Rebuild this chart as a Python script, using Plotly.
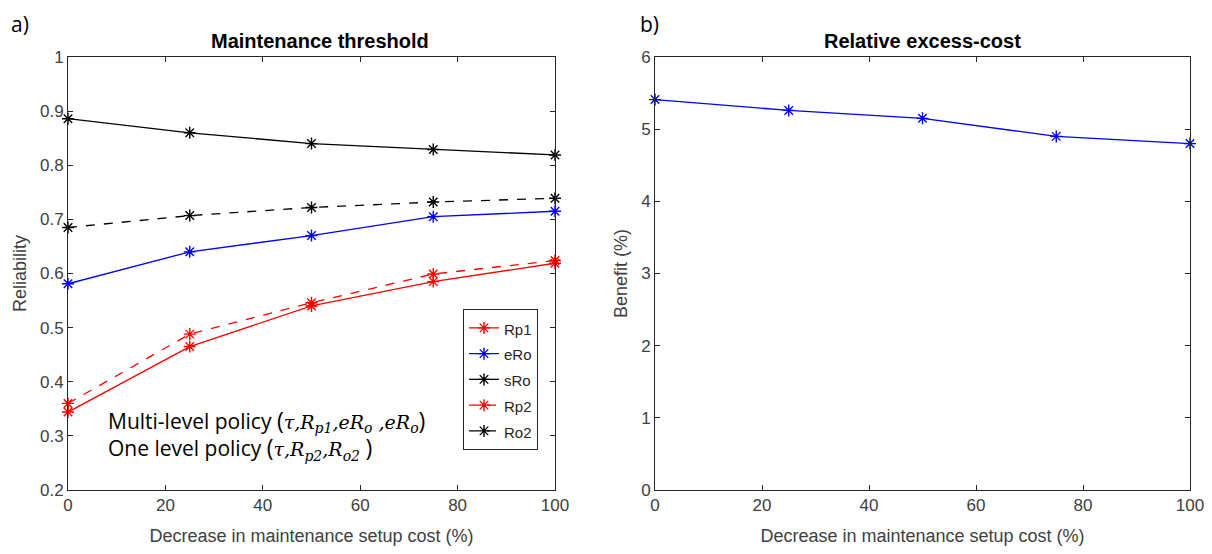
import plotly.graph_objects as go

x_cost = [0, 25, 50, 75, 100]
rp1 = [0.344, 0.465, 0.540, 0.585, 0.619]
ero = [0.581, 0.640, 0.670, 0.705, 0.715]
sro = [0.886, 0.860, 0.840, 0.829, 0.819]
rp2 = [0.360, 0.488, 0.546, 0.599, 0.624]
ro2 = [0.685, 0.707, 0.722, 0.732, 0.739]
benefit = [5.41, 5.26, 5.15, 4.90, 4.80]

# page has an 8px body margin; size figure to fill the window exactly
OFF = 8
W, H = 1212 - 2 * OFF, 554 - 2 * OFF
def fx(p): return (p - OFF) / W
def fy(p): return 1 - (p - OFF) / H

FONT = "Liberation Sans, Arial, sans-serif"
GRAY = "#404040"

fig = go.Figure()

def add(y, name, color, dash, xa="x", ya="y", show=True):
    fig.add_trace(go.Scatter(
        x=x_cost, y=y, name="<span style='font-size:15px'>" + name + "</span>",
        mode="lines+markers",
        line=dict(color=color, width=1.3, dash=dash),
        marker=dict(symbol="asterisk-open", size=10, color=color,
                    line=dict(color=color, width=1.4)),
        xaxis=xa, yaxis=ya, showlegend=show, cliponaxis=False))

add(rp1, "Rp1", "#ff0000", "solid")
add(ero, "eRo", "#0000ff", "solid")
add(sro, "sRo", "#000000", "solid")
add(rp2, "Rp2", "#ff0000", "dash")
add(ro2, "Ro2", "#000000", "dash")
add(benefit, "Benefit", "#0000ff", "solid", "x2", "y2", False)

axis_common = dict(showline=True, linecolor="#262626", linewidth=1, mirror="ticks",
                   ticks="inside", ticklen=5, tickcolor="#262626", showgrid=False,
                   zeroline=False, automargin=False, ticklabeloverflow="allow",
                   tickfont=dict(family=FONT, size=17, color=GRAY))
title_font = dict(family=FONT, size=18, color=GRAY)

fig.update_layout(
    width=W, height=H, paper_bgcolor="white", plot_bgcolor="white",
    margin=dict(l=0, r=0, t=0, b=0, autoexpand=False),
    xaxis=dict(domain=[fx(68), fx(555)], range=[0, 100], tickvals=[0, 20, 40, 60, 80, 100],
               anchor="y", title=dict(text="Decrease in maintenance setup cost (%)",
                                      font=title_font, standoff=14),
               **axis_common),
    yaxis=dict(domain=[fy(490), fy(57)], range=[0.2, 1], dtick=0.1, tickformat=".1~f",
               anchor="x", title=dict(text="Reliability", font=title_font, standoff=8),
               **axis_common),
    xaxis2=dict(domain=[fx(655), fx(1190)], range=[0, 100], tickvals=[0, 20, 40, 60, 80, 100],
                anchor="y2", title=dict(text="Decrease in maintenance setup cost (%)",
                                        font=title_font, standoff=14),
                **axis_common),
    yaxis2=dict(domain=[fy(490), fy(57)], range=[0, 6], dtick=1,
                anchor="x2", title=dict(text="Benefit (%)", font=title_font, standoff=8),
                **axis_common),
    legend=dict(x=fx(463), y=fy(309), xanchor="left", yanchor="top",
                bordercolor="#262626", borderwidth=1, bgcolor="white",
                font=dict(family=FONT, size=17.5, color="#262626"),
                tracegroupgap=0, itemwidth=30),
    showlegend=True,
)

big = "<span style='font-size:23px'>%s</span>"
def M(s): return "<span style='font-family:DejaVu Serif;font-size:19px'><i>%s</i></span>" % s
def S(s): return "<sub><span style='font-family:DejaVu Serif;font-size:14px'><i>%s</i></span></sub>" % s
line1 = ("Multi-level policy " + big % "(" + M("τ") + M(",") + M("R") + S("p1") + M(",")
         + M("eR") + S("o") + M(" ,") + M("eR") + S("o") + big % ")")
line2 = ("One level policy " + big % "(" + M("τ") + M(",") + M("R") + S("p2") + M(",")
         + M("R") + S("o2") + " " + big % ")")

ann = [
    dict(text="a)", x=fx(9), y=fy(8), xanchor="left", yanchor="top",
         font=dict(family="Open Sans, sans-serif", size=21, color="#000")),
    dict(text="b)", x=fx(638), y=fy(8), xanchor="left", yanchor="top",
         font=dict(family="Open Sans, sans-serif", size=21, color="#000")),
    dict(text="<b>Maintenance threshold</b>", x=fx(320), y=fy(41), xanchor="center", yanchor="middle",
         font=dict(family=FONT, size=20, color="#000")),
    dict(text="<b>Relative excess-cost</b>", x=fx(922), y=fy(41), xanchor="center", yanchor="middle",
         font=dict(family=FONT, size=20, color="#000")),
    dict(text=line1 + "<br>" + line2, align="left",
         x=fx(106), y=fy(434), xanchor="left", yanchor="middle",
         font=dict(family="Open Sans, sans-serif", size=21, color="#000")),
]
for a in ann:
    a.update(xref="paper", yref="paper", showarrow=False)
fig.update_layout(annotations=ann)

fig.write_html("out.html")
